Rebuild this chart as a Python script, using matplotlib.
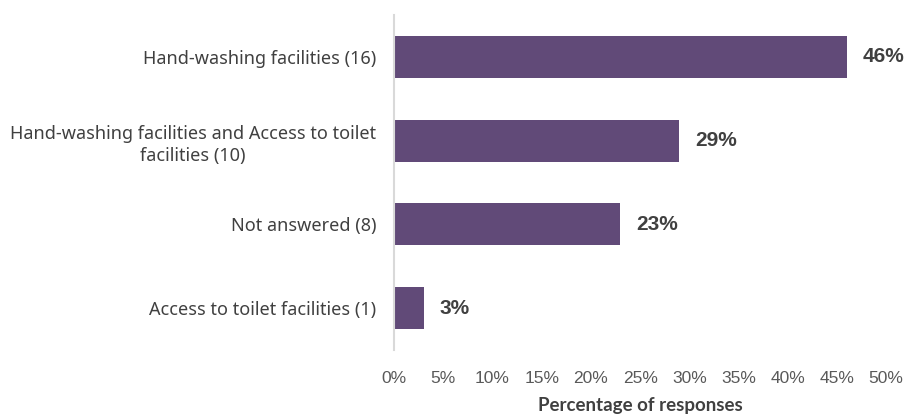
import matplotlib.pyplot as plt

categories = [
    "Hand-washing facilities (16)",
    "Hand-washing facilities and Access to toilet\nfacilities (10)",
    "Not answered (8)",
    "Access to toilet facilities (1)",
]
percentages = [46, 29, 23, 3]
x_ticks = [0, 5, 10, 15, 20, 25, 30, 35, 40, 45, 50]

bar_color = "#614a78"

fig = plt.figure(figsize=(9.06, 4.17), dpi=100)
ax = fig.add_axes([0.435, 0.161, 0.543, 0.803])

y_pos = list(range(len(categories)))
ax.barh(y_pos, percentages, height=0.5, color=bar_color)
ax.set_ylim(len(categories) - 0.5, -0.5)
ax.set_xlim(0, 50)

for y, v in zip(y_pos, percentages):
    ax.text(v + 1.6, y, f"{v}%", va="center", ha="left", fontsize=15,
            fontweight="bold", color="#404040", family="Liberation Sans")

ax.set_yticks(y_pos)
ax.set_yticklabels(categories, fontsize=13, color="#404040",
                   family="Noto Sans", multialignment="center",
                   linespacing=1.35)
ax.tick_params(axis="y", length=0, pad=13)

ax.set_xticks(x_ticks)
ax.set_xticklabels([f"{t}%" for t in x_ticks], fontsize=12.5, color="#595959",
                   family="Liberation Sans")
ax.tick_params(axis="x", length=0, pad=15)

ax.set_xlabel("Percentage of responses", fontsize=13.5, fontweight="bold",
              color="#404040", family="Lato", labelpad=8)

for side in ["top", "right", "bottom"]:
    ax.spines[side].set_visible(False)
ax.spines["left"].set_color("#d9d9d9")
ax.spines["left"].set_linewidth(1.5)

fig.savefig("out.png", dpi=100)
